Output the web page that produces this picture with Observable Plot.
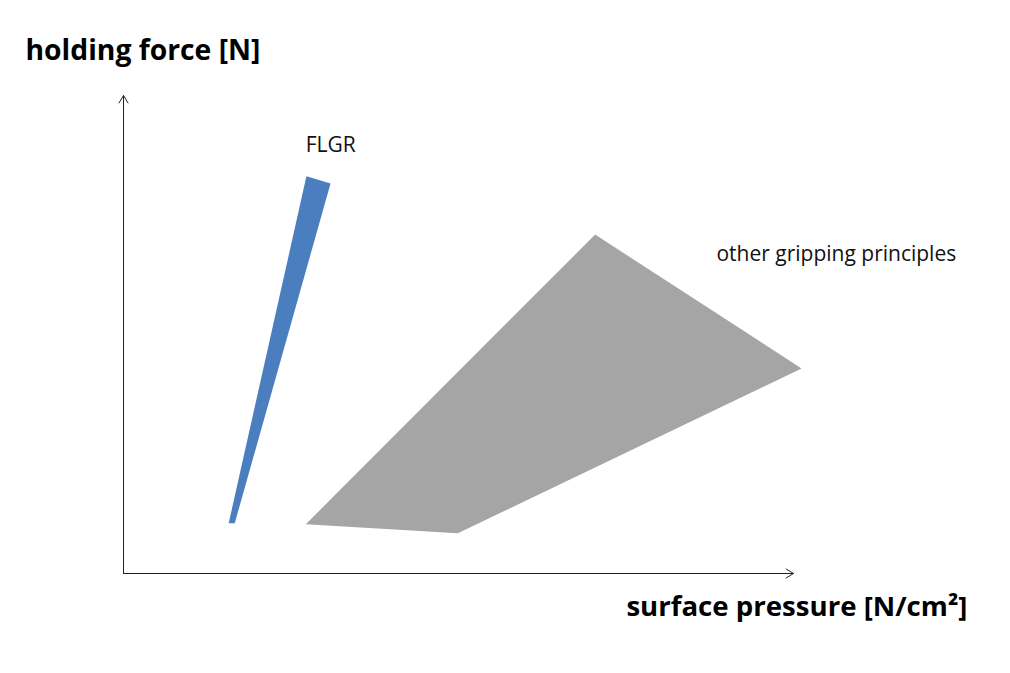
<!DOCTYPE html>
<html>
<head>
<meta charset="utf-8">
<script src="https://cdn.jsdelivr.net/npm/d3@7"></script>
<script src="https://cdn.jsdelivr.net/npm/@observablehq/plot@0.6"></script>
<style>
  html, body { margin: 0; padding: 0; background: #fff; }
</style>
</head>
<body>
<div id="chart"></div>
<script>
// Region outlines in arbitrary chart units (x: surface pressure, y: holding force)
const flgrX = [15.7, 27.3, 30.9, 16.6];
const flgrY = [10.5, 83.1, 81.6, 10.5];
const otherX = [27.2, 49.9, 101.2, 70.4];
const otherY = [10.3, 8.4, 42.9, 70.9];

const labelTexts = ["FLGR", "other gripping principles"];
const labelX = [27.2, 88.5];
const labelY = [89.6, 66.7];

const xTitle = "surface pressure [N/cm²]";
const yTitle = "holding force [N]";

const flgr = flgrX.map((x, i) => ({x, y: flgrY[i]}));
const other = otherX.map((x, i) => ({x, y: otherY[i]}));
const labels = labelTexts.map((t, i) => ({t, x: labelX[i], y: labelY[i]}));
const axes = [
  {x1: 0, y1: 0, x2: 0, y2: 100},
  {x1: 0, y1: 0, x2: 100, y2: 0}
];

const chart = Plot.plot({
  width: 1010,
  height: 673,
  marginLeft: 123,
  marginRight: 217,
  marginTop: 95,
  marginBottom: 100,
  x: {domain: [0, 100], axis: null},
  y: {domain: [0, 100], axis: null},
  style: {fontFamily: "'Open Sans', sans-serif", background: "#fff"},
  marks: [
    Plot.line(flgr, {x: "x", y: "y", fill: "#4a7ebf", stroke: "none", curve: "linear-closed"}),
    Plot.line(other, {x: "x", y: "y", fill: "#a5a5a5", stroke: "none", curve: "linear-closed"}),
    Plot.arrow(axes, {x1: "x1", y1: "y1", x2: "x2", y2: "y2", stroke: "#222", strokeWidth: 1, headLength: 13, headAngle: 62, bend: 0}),
    Plot.text(labels, {x: "x", y: "y", text: "t", textAnchor: "start", lineAnchor: "middle", fontSize: 21, fill: "#111"}),
    Plot.text([yTitle], {frameAnchor: "top-left", lineAnchor: "middle", dx: -98, dy: -45, textAnchor: "start", fontSize: 28.3, fontWeight: "bold", fill: "#000"}),
    Plot.text([xTitle], {frameAnchor: "bottom-right", lineAnchor: "middle", dx: 174, dy: 34, textAnchor: "end", fontSize: 27.6, fontWeight: "bold", fill: "#000"})
  ]
});
document.getElementById("chart").appendChild(chart);
</script>
</body>
</html>
